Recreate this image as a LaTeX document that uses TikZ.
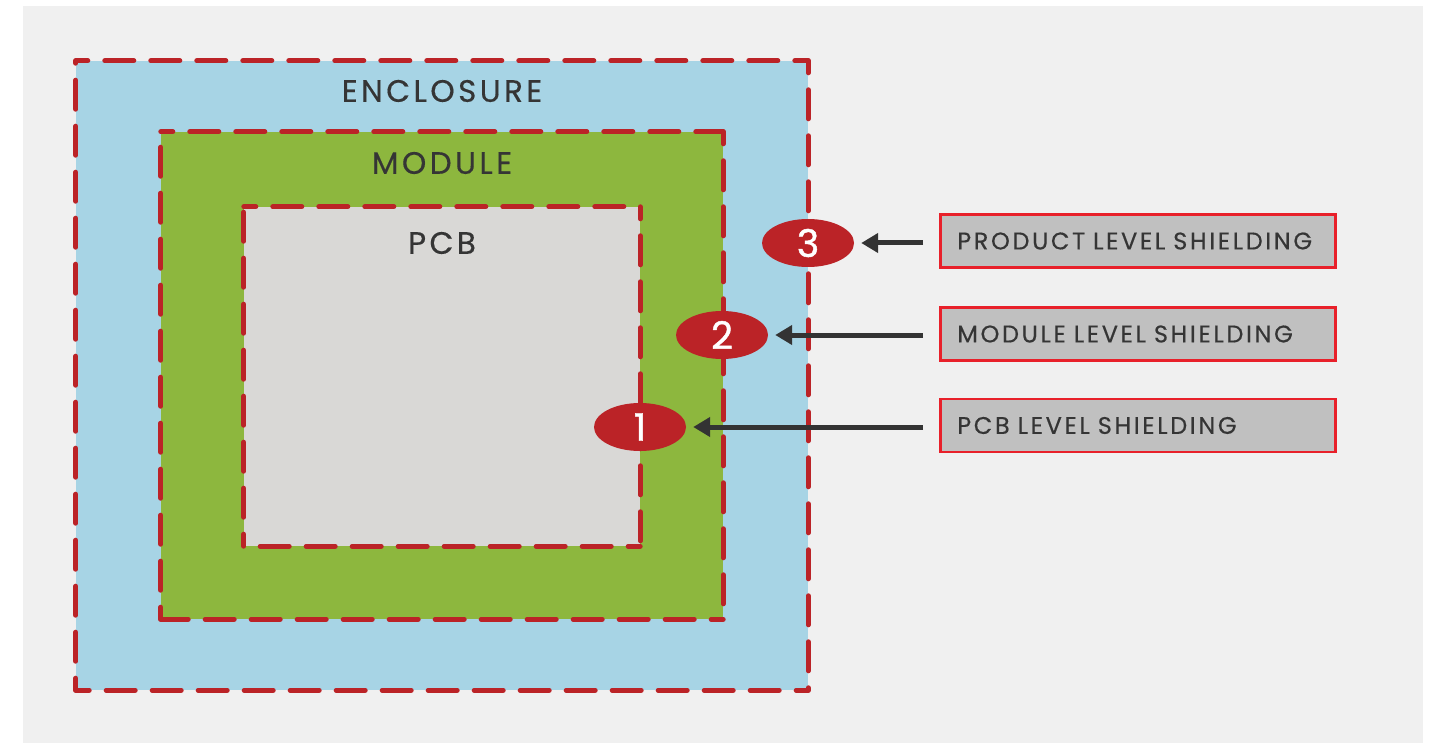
\documentclass[tikz,border=0pt]{standalone}
\usepackage{fontspec}
\setmainfont{Poppins}[LetterSpace=11, FakeBold=0.4]
\newfontfamily\badgefont{Poppins}[FakeBold=1.2]
\usetikzlibrary{arrows.meta,shapes.geometric}
\definecolor{bggray}{HTML}{F0F0F0}
\definecolor{encblue}{HTML}{A7D4E5}
\definecolor{modgreen}{HTML}{8DB73E}
\definecolor{pcbgray}{HTML}{D9D8D6}
\definecolor{shieldred}{HTML}{BB2327}
\definecolor{textdark}{HTML}{353535}
\definecolor{arrowdark}{HTML}{333333}
\definecolor{taggray}{HTML}{C0C0C0}
\definecolor{tagred}{HTML}{E8202A}
\tikzset{
  zone/.style={rectangle, inner sep=0pt, draw=none},
  zonetext/.style={text=textdark, font=\fontsize{31}{34}\selectfont, inner sep=0pt},
  shield/.style={draw=shieldred, line width=5pt, line cap=round, dash pattern=on 29pt off 17pt, dash phase=17pt},
  badge/.style={ellipse, fill=shieldred, minimum width=92pt, minimum height=48pt, inner sep=0pt, text=white, font=\badgefont\fontsize{38}{40}\selectfont},
  pointer/.style={draw=arrowdark, line width=5pt, -{Triangle[length=17pt,width=19pt]}, shorten >=7pt, shorten <=16pt},
  tagbox/.style={rectangle, anchor=west, fill=taggray, draw=tagred, line width=2.5pt, minimum width=395pt, minimum height=53pt, text width=361pt, inner xsep=17pt, inner ysep=0pt, align=left, text=textdark, font=\fontsize{24}{28}\selectfont}
}
\begin{document}
\begin{tikzpicture}[x=1pt,y=-1pt]
\useasboundingbox (0,0) rectangle (1437,743);
\fill[bggray] (23,6) rectangle (1423,743);
% zones
\node[zone, fill=encblue, minimum width=732pt, minimum height=629pt] (enc) at (442,375.5) {};
\node[zone, fill=modgreen, minimum width=562pt, minimum height=487pt] (mod) at (442,375.5) {};
\node[zone, fill=pcbgray, minimum width=396pt, minimum height=339pt] (pcb) at (442,376.5) {};
\foreach \z in {enc,mod,pcb}{
  \draw[shield] (\z.north west) -- (\z.north east);
  \draw[shield] (\z.north east) -- (\z.south east);
  \draw[shield] (\z.south east) -- (\z.south west);
  \draw[shield] (\z.south west) -- (\z.north west);
}
\node[zonetext] (enctext) at (442,91) {ENCLOSURE};
\node[zonetext] (modtext) at (442,163) {MODULE};
\node[zonetext] (pcbtext) at (442,243) {PCB};
% badges
\node[badge] (b3) at (808,243) {3};
\node[badge] (b2) at (722,335) {2};
\node[badge] (b1) at (640,427) {1};
% labels
\node[tagbox] (l3) at (939,241) {PRODUCT LEVEL SHIELDING};
\node[tagbox] (l2) at (939,334) {MODULE LEVEL SHIELDING};
\node[tagbox] (l1) at (939,425.5) {PCB LEVEL SHIELDING};
% arrows
\draw[pointer] (l3.west |- b3) -- (b3);
\draw[pointer] (l2.west |- b2) -- (b2);
\draw[pointer] (l1.west |- b1) -- (b1);
\end{tikzpicture}
\end{document}
